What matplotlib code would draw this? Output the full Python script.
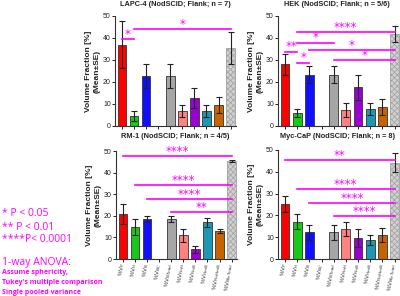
import matplotlib
matplotlib.use('Agg')
import matplotlib.pyplot as plt

plt.rcParams['font.family'] = ['Liberation Sans', 'DejaVu Sans']
plt.rcParams['hatch.color'] = '#808080'
plt.rcParams['hatch.linewidth'] = 0.5

# categories (x tick labels)
categories = ['P', 'H', 'N', 'NC', 'NTotal', 'PmH', 'PmN', 'HmN', 'PmHmN', 'MixTotal']
ticklabels = ['%V$_{' + c + '}$' for c in categories]
colors = ['#ff0000', '#19c819', '#1010ff', '#ffffff', '#a6a6a6',
          '#ff8282', '#9a00d2', '#1b98b4', '#c86400', '#d0d0d0']

titles = ['LAPC-4 (NodSCID; Flank; n = 7)', 'HEK (NodSCID; Flank; n = 5/6)',
          'RM-1 (NodSCID; Flank; n = 4/5)', 'Myc-CaP (NodSCID; Flank; n = 8)']

# means and SE per panel
lapc_mean = [37.0, 4.5, 22.6, 0, 22.6, 6.8, 12.6, 6.8, 9.5, 35.3]
lapc_err = [10.7, 2.3, 5.4, 0, 5.4, 2.6, 4.5, 2.7, 3.5, 7.3]
hek_mean = [28.0, 5.9, 23.3, 0, 23.3, 7.3, 17.6, 7.7, 8.5, 41.7]
hek_err = [4.7, 1.8, 3.8, 0, 3.8, 3.0, 5.6, 2.6, 3.6, 3.6]
rm1_mean = [20.7, 14.7, 18.4, 0, 18.4, 10.9, 4.4, 16.9, 13.0, 45.4]
rm1_err = [4.6, 3.8, 1.5, 0, 1.4, 2.9, 1.4, 2.3, 0.8, 0.4]
myc_mean = [25.2, 17.2, 12.3, 0, 12.3, 13.9, 9.6, 8.8, 11.1, 44.2]
myc_err = [3.5, 3.5, 3.4, 0, 3.4, 3.2, 4.1, 2.3, 3.1, 4.3]

# significance comparisons: (from, to, y, stars)
lapc_sig = [(0, 1, 39.4, '*'), (1, 9, 44.0, '*')]
hek_sig = [(0, 1, 33.8, '**'), (1, 2, 28.8, '*'), (1, 4, 37.9, '*'),
           (1, 9, 42.6, '****'), (2, 9, 34.5, '*'), (4, 9, 29.8, '*')]
rm1_sig = [(0, 9, 47.7, '****'), (1, 9, 34.2, '****'), (2, 9, 27.6, '****'),
           (4, 9, 21.6, '**')]
myc_sig = [(0, 9, 45.4, '**'), (1, 9, 32.2, '****'), (2, 9, 25.6, '****'),
           (4, 9, 19.5, '****')]

means = [lapc_mean, hek_mean, rm1_mean, myc_mean]
errs = [lapc_err, hek_err, rm1_err, myc_err]
sigs = [lapc_sig, hek_sig, rm1_sig, myc_sig]

magenta = '#ff00ff'

fig = plt.figure(figsize=(4.0, 2.96), dpi=100)
W, H = 400.0, 296.0
# axes boxes in pixels: left, top, right, bottom
boxes = [(115, 16, 236, 126), (278, 16, 400, 126),
         (116, 151, 237, 259), (278, 150, 400, 259)]
# title centers in pixels
title_pos = [(175, 5), (337, 5), (175, 137), (338, 137)]

for k in range(4):
    l, t, r, b = boxes[k]
    ax = fig.add_axes([l / W, 1 - b / H, (r - l) / W, (b - t) / H])
    x = list(range(len(categories)))
    bars = ax.bar(x, means[k], width=0.72, color=colors, edgecolor='#333333',
                  linewidth=0.6, zorder=2)
    bars[9].set_hatch('xxxxxx')
    bars[9].set_edgecolor('#a0a0a0')
    bars[3].set_visible(False)
    ex = [i for i in x if i != 3]
    ax.errorbar(ex, [means[k][i] for i in ex], yerr=[errs[k][i] for i in ex],
                fmt='none', ecolor='#222222', elinewidth=0.8, capsize=2,
                capthick=0.8, zorder=3)
    for (i, j, y, s) in sigs[k]:
        ax.plot([i, j], [y, y], color=magenta, lw=1.2, clip_on=False, zorder=4)
        ax.text((i + j) / 2, y - 0.8, s, color=magenta, fontsize=8.5,
                ha='center', va='bottom', family='DejaVu Sans')
    ax.set_xlim(-0.58, 9.45)
    ax.set_ylim(0, 50)
    ax.set_yticks([0, 10, 20, 30, 40, 50])
    ax.spines['top'].set_visible(False)
    ax.spines['right'].set_visible(False)
    ax.spines['left'].set_color('#333333')
    ax.spines['bottom'].set_color('#333333')
    ax.tick_params(axis='y', labelsize=5, length=2, width=0.6, pad=1,
                   labelcolor='#222222')
    ax.tick_params(axis='x', length=2, width=0.6, pad=1)
    ax.set_xticks(x)
    if k >= 2:
        ax.set_xticklabels(ticklabels, rotation=80, ha='right', va='center',
                           rotation_mode='anchor', fontsize=4.2,
                           color='#333333')
    else:
        ax.set_xticklabels([])
    ax.set_ylabel('Volume Fraction [%]\n(Mean±SE)', fontsize=6,
                  fontweight='bold', labelpad=2, color='#222222')
    fig.text(title_pos[k][0] / W, 1 - title_pos[k][1] / H, titles[k],
             fontsize=5.3, fontweight='bold', ha='center', va='center',
             color='#222222')

# legend text on the left
fig.text(0.005, 1 - 213 / H, '* P < 0.05', color=magenta, fontsize=7.5,
         family='Open Sans', va='center')
fig.text(0.005, 1 - 227 / H, '** P < 0.01', color=magenta, fontsize=7.5,
         family='Open Sans', va='center')
fig.text(0.005, 1 - 240 / H, '****P< 0.0001', color=magenta, fontsize=7.5,
         family='Open Sans', va='center')
fig.text(0.005, 1 - 263 / H, '1-way ANOVA:', color=magenta, fontsize=7.5,
         family='Open Sans', va='center')
fig.text(0.005, 1 - 273 / H, 'Assume sphericity,', color=magenta, fontsize=5,
         family='Open Sans', va='center', fontweight='bold')
fig.text(0.005, 1 - 283 / H, "Tukey's multiple comparison", color=magenta,
         fontsize=5, family='Open Sans', va='center', fontweight='bold')
fig.text(0.005, 1 - 292 / H, 'Single pooled variance', color=magenta,
         fontsize=5, family='Open Sans', va='center', fontweight='bold')

fig.savefig('out.png', dpi=100)
